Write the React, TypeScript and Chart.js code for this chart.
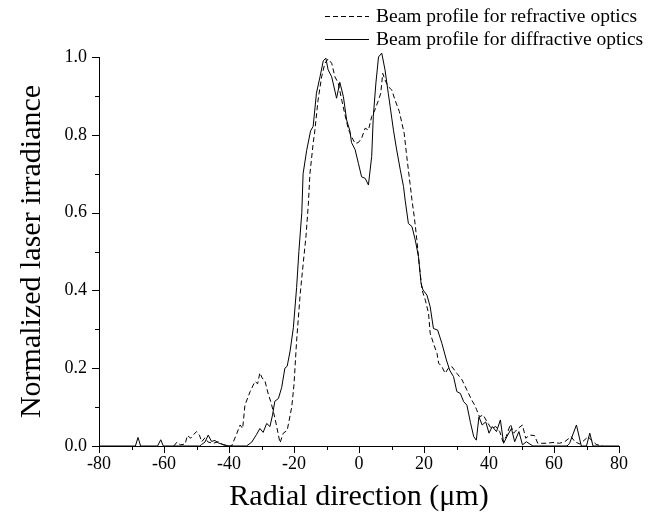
import React, { useEffect, useRef } from "react";
import { Chart, registerables } from "chart.js";

Chart.register(...registerables);

// Beam profile for refractive optics (dashed)
const refractiveX = [
  -57, -56, -55, -53.5, -52.8, -51.8, -50.8, -50, -49.1, -48.4, -47.4, -46.4, -44.8, -43.3, -41.7, -40.2,
  -39.2, -37.6, -36.6, -35.8, -35.1, -33.5, -32, -31.2, -30.5, -29.8, -28.9, -27.9, -27, -25.9, -24.3,
  -23.3, -22.1, -20.7, -20, -19.2, -18.1, -17.1, -16.3, -15.6, -15.1, -14.1, -13.6, -12.6, -11.5, -10.5,
  -9.5, -8.4, -7.4, -6.4, -5.3, -4.3, -3.3, -2.3, -1.2, -0.2, 0.8, 1.9, 2.9, 3.9, 4.9, 6, 6.7, 7.3, 8, 9,
  10.1, 11.1, 12.4, 13.2, 13.9, 14.7, 15.7, 16.3, 17, 17.8, 18.6, 19.4, 20.4, 21.4, 21.9, 22.9, 24, 24.5,
  25.5, 26.5, 27.5, 28.6, 30.1, 31.7, 33.2, 34.7, 35.6, 36.2, 37.1, 38.2, 39.4, 40.7, 42.1, 43.3, 44.3,
  45.3, 46.6, 47.6, 48.9, 50.3, 51.3, 52.5, 54, 55, 57.6, 59.7, 61.7, 63.3, 65.3, 66.4, 68, 70.5, 71.5,
  73, 75,
];
const refractiveY = [
  0, 0.01, 0.003, 0.005, 0.027, 0.02, 0.03, 0.037, 0.028, 0.011, 0.021, 0.01, 0.007, 0.011, 0.003, 0,
  0, 0.032, 0.054, 0.045, 0.105, 0.14, 0.166, 0.16, 0.188, 0.175, 0.166, 0.133, 0.11, 0.073, 0.008,
  0.033, 0.04, 0.1, 0.158, 0.27, 0.39, 0.475, 0.54, 0.62, 0.7, 0.778, 0.81, 0.889, 0.949, 0.984,
  0.995, 0.984, 0.949, 0.933, 0.889, 0.851, 0.815, 0.795, 0.778, 0.78, 0.791, 0.817, 0.812, 0.847, 0.864, 0.889, 0.907, 0.958, 0.941, 0.924,
  0.915, 0.889, 0.86, 0.83, 0.804, 0.744, 0.675, 0.632, 0.59, 0.53, 0.461, 0.401, 0.375, 0.341, 0.29, 0.264, 0.238, 0.213,
  0.204, 0.187, 0.2, 0.204, 0.187, 0.17, 0.144, 0.118, 0.105, 0.093, 0.075, 0.08, 0.062, 0.045, 0.05, 0.037, 0.011,
  0.024, 0.056, 0.033, 0.045, 0.054, 0.02, 0.028, 0.027, 0.007, 0.007, 0.009, 0.007, 0.011, 0.024, 0.011, 0.005, 0.024, 0.015,
  0.004, 0,
];

// Beam profile for diffractive optics (solid)
const diffractiveX = [
  -80, -70, -68.8, -68, -67.2, -62, -61, -60.2, -49, -48.4, -47.4, -46.4, -45.4, -44.3, -43.3, -42, -40,
  -34.6, -33, -31.5, -30.5, -29.5, -28.4, -27.4, -26.6, -25.9, -24.8, -23.8, -22.8, -22.1, -21.2, -20.2,
  -19.2, -18.5, -17.6, -17.2, -16.1, -14.9, -14.1, -13.1, -12, -11, -10.2, -9.5, -8.4, -6.9, -5.9, -4.8,
  -3.8, -2.8, -2.3, -1.2, -0.2, 0.8, 1.9, 2.9, 3.9, 4.4, 5.2, 6, 7, 8, 9, 9.6, 10.6, 11.6, 12.7, 13.7,
  14.2, 15.2, 16.3, 17.3, 18.3, 19.1, 19.7, 20.9, 21.9, 22.9, 24.2, 25.5, 26.9, 27.9, 29.1, 30.1, 31.2,
  32.2, 33.2, 34.3, 35.3, 36.1, 36.9, 37.9, 39, 40, 41, 42.3, 43.5, 44.5, 45.5, 46.9, 47.9, 49.2, 50.3,
  51.5, 53.5, 64, 64.8, 66.9, 68.4, 70, 71, 72, 80,
];
const diffractiveY = [
  0, 0, 0, 0.022, 0, 0, 0.016, 0, 0, 0.004, 0.01, 0.028, 0.012, 0.014, 0.008, 0.004, 0,
  0, 0.01, 0.03, 0.045, 0.035, 0.058, 0.05, 0.08, 0.115, 0.122, 0.15, 0.2, 0.205, 0.244, 0.304,
  0.407, 0.5, 0.6, 0.7, 0.76, 0.81, 0.822, 0.907, 0.949, 0.99, 0.997, 0.967, 0.949, 0.894, 0.935, 0.898,
  0.838, 0.81, 0.78, 0.762, 0.727, 0.692, 0.688, 0.671, 0.744, 0.847, 0.933, 1.0, 1.01, 0.967, 0.907, 0.872, 0.812, 0.761, 0.71, 0.667,
  0.632, 0.572, 0.564, 0.53, 0.487, 0.418, 0.401, 0.388, 0.358, 0.302, 0.298, 0.264, 0.221, 0.195, 0.178, 0.14, 0.135,
  0.114, 0.105, 0.06, 0.024, 0.015, 0.075, 0.054, 0.062, 0.033, 0.05, 0.037, 0.067, 0.007, 0.024, 0.045, 0.011, 0.037, 0.003,
  0.011, 0, 0, 0.007, 0.054, 0, 0, 0.033, 0, 0,
];

const legendLabels = ["Beam profile for refractive optics", "Beam profile for diffractive optics"];
const xTitle = "Radial direction (μm)";
const yTitle = "Normalized laser irradiance";
const xMin = -80;
const xMax = 80;
const yMin = 0;
const yMax = 1;

const FONT = "'Liberation Serif', 'Times New Roman', serif";
const DASH = [5, 3];

export default function App() {
  const ref = useRef<HTMLCanvasElement>(null);

  useEffect(() => {
    const canvas = ref.current;
    if (!canvas) return;

    const ticksPlugin = {
      id: "customTicks",
      afterDraw(chart: any) {
        const { ctx, chartArea, scales } = chart;
        ctx.save();
        ctx.strokeStyle = "#000";
        ctx.lineWidth = 1;
        ctx.beginPath();
        for (let v = xMin; v <= xMax; v += 10) {
          const px = Math.round(scales.x.getPixelForValue(v)) + 0.5;
          const len = v % 20 === 0 ? 7 : 4;
          ctx.moveTo(px, chartArea.bottom);
          ctx.lineTo(px, chartArea.bottom + len);
        }
        for (let i = 0; i <= 10; i++) {
          const v = i / 10;
          const py = Math.round(scales.y.getPixelForValue(v)) + 0.5;
          const len = i % 2 === 0 ? 7 : 4;
          ctx.moveTo(chartArea.left, py);
          ctx.lineTo(chartArea.left - len, py);
        }
        ctx.stroke();
        ctx.restore();
      },
    };

    const legendPlugin = {
      id: "customLegend",
      afterDraw(chart: any) {
        const { ctx } = chart;
        ctx.save();
        ctx.strokeStyle = "#000";
        ctx.fillStyle = "#000";
        ctx.lineWidth = 1;
        ctx.font = `19.5px ${FONT}`;
        ctx.textBaseline = "middle";
        const rows = [
          { y: 16.5, dash: DASH, text: legendLabels[0] },
          { y: 39.5, dash: [], text: legendLabels[1] },
        ];
        for (const r of rows) {
          ctx.setLineDash(r.dash);
          ctx.beginPath();
          ctx.moveTo(325, r.y);
          ctx.lineTo(369, r.y);
          ctx.stroke();
          ctx.fillText(r.text, 376, r.y);
        }
        ctx.restore();
      },
    };

    const chart = new Chart(canvas, {
      type: "line",
      data: {
        datasets: [
          {
            label: legendLabels[0],
            data: refractiveX.map((x, i) => ({ x, y: refractiveY[i] })),
            borderColor: "#000",
            borderWidth: 1,
            borderDash: DASH,
            pointRadius: 0,
            fill: false,
            tension: 0,
            clip: false as any,
          },
          {
            label: legendLabels[1],
            data: diffractiveX.map((x, i) => ({ x, y: diffractiveY[i] })),
            borderColor: "#000",
            borderWidth: 1,
            pointRadius: 0,
            fill: false,
            tension: 0,
            clip: false as any,
          },
        ],
      },
      options: {
        animation: false,
        responsive: false,
        layout: { padding: { top: 57, right: 42, bottom: 0, left: 0 } },
        plugins: { legend: { display: false }, tooltip: { enabled: false } },
        scales: {
          x: {
            type: "linear",
            min: xMin,
            max: xMax,
            ticks: {
              stepSize: 20,
              font: { family: FONT, size: 18 },
              color: "#000",
              padding: 7,
              maxRotation: 0,
              autoSkip: false,
            },
            grid: { display: false, drawTicks: false },
            border: { display: true, color: "#000", width: 1 },
            title: {
              display: true,
              text: xTitle,
              font: { family: FONT, size: 30 },
              color: "#000",
              padding: { top: 0, bottom: 6 },
            },
            afterFit(s: any) {
              s.height = 75;
            },
          },
          y: {
            type: "linear",
            min: yMin,
            max: yMax,
            ticks: {
              stepSize: 0.2,
              font: { family: FONT, size: 18 },
              color: "#000",
              padding: 12,
              callback: (v: any) => Number(v).toFixed(1),
            },
            grid: { display: false, drawTicks: false },
            border: { display: true, color: "#000", width: 1 },
            title: {
              display: true,
              text: yTitle,
              font: { family: FONT, size: 30 },
              color: "#000",
              padding: { top: 14, bottom: 0 },
            },
            afterFit(s: any) {
              s.width = 99;
            },
          },
        },
      },
      plugins: [ticksPlugin, legendPlugin],
    });

    return () => chart.destroy();
  }, []);

  return (
    <div style={{ position: "fixed", left: 0, top: 0, width: 661, height: 521, background: "#fff" }}>
      <canvas ref={ref} width={661} height={521} style={{ display: "block" }} />
    </div>
  );
}
